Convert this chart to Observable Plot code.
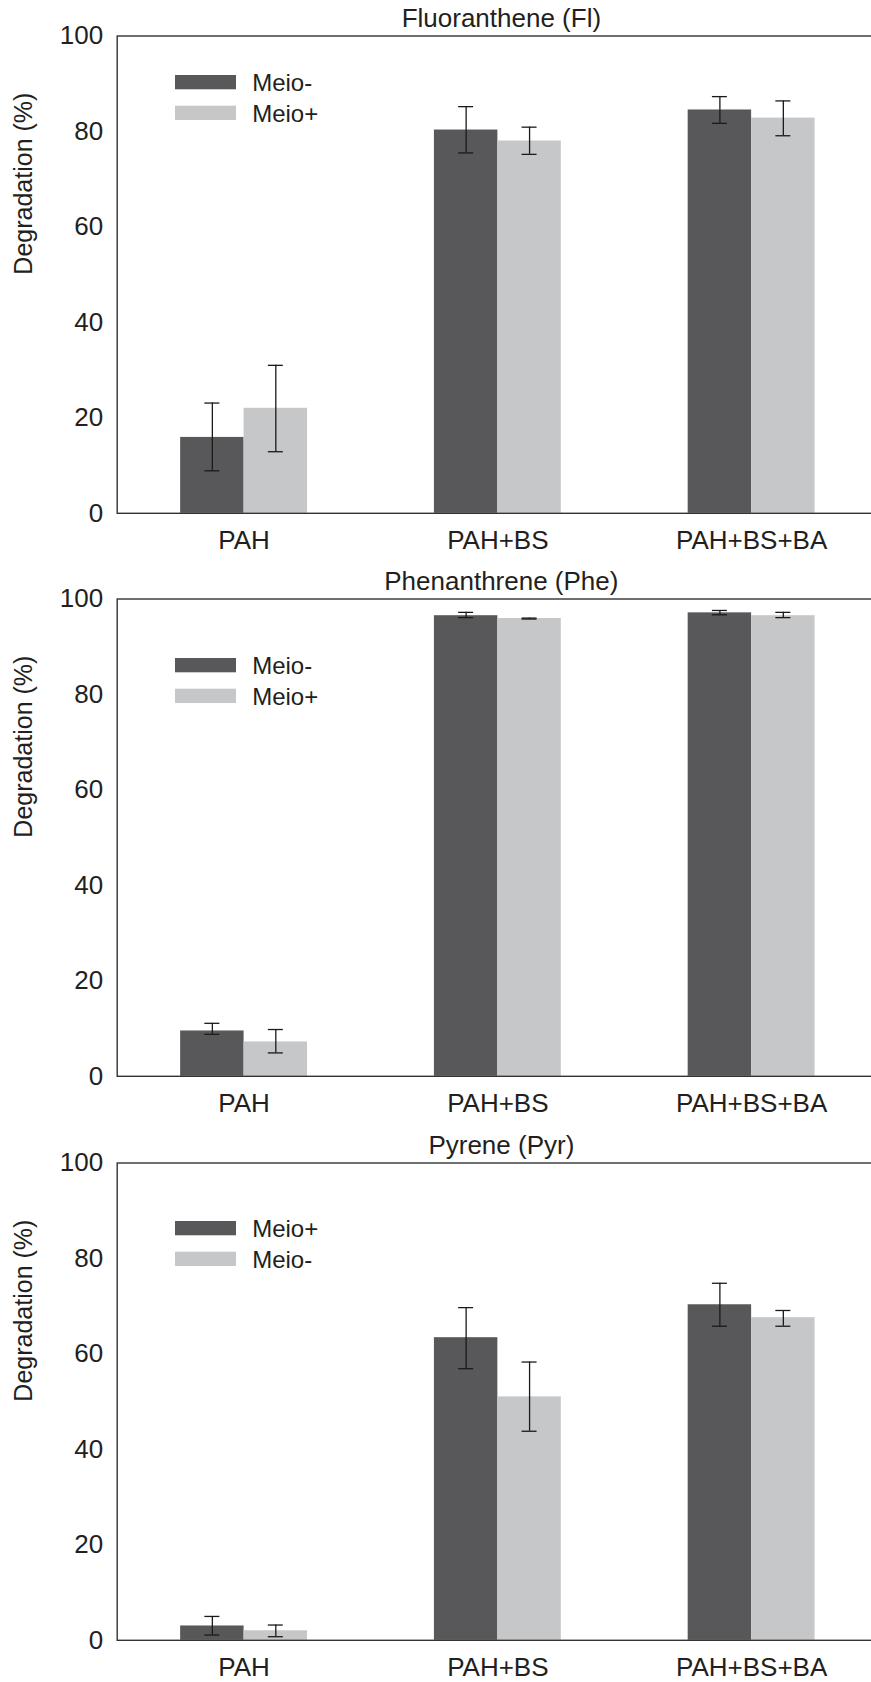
<!DOCTYPE html>
<html><head><meta charset="utf-8">
<script src="https://cdn.jsdelivr.net/npm/d3@7"></script>
<script src="https://cdn.jsdelivr.net/npm/@observablehq/plot@0.6"></script>
<style>
html,body{margin:0;padding:0;background:#fff;overflow:hidden;width:871px;height:1682px}
.panel{position:relative;width:871px;overflow:hidden}
.panel svg{display:block}
</style></head><body><div id="chart"></div>
<script>
// ---- data ----
const categories = ["PAH", "PAH+BS", "PAH+BS+BA"];
const yTicks = [0, 20, 40, 60, 80, 100];

// Fluoranthene (Fl)
const flTitle = "Fluoranthene (Fl)";
const flSeries = ["Meio-", "Meio+"];
const flMeioMinus   = [15.9, 80.3, 84.5];
const flMeioMinusLo = [8.9, 75.5, 81.7];
const flMeioMinusHi = [23.1, 85.2, 87.3];
const flMeioPlus    = [22.0, 78.0, 82.8];
const flMeioPlusLo  = [12.9, 75.2, 79.1];
const flMeioPlusHi  = [31.0, 80.9, 86.4];

// Phenanthrene (Phe)
const pheTitle = "Phenanthrene (Phe)";
const pheSeries = ["Meio-", "Meio+"];
const pheMeioMinus   = [9.5, 96.5, 97.1];
const pheMeioMinusLo = [8.8, 96.1, 96.7];
const pheMeioMinusHi = [11.1, 97.2, 97.6];
const pheMeioPlus    = [7.2, 95.9, 96.5];
const pheMeioPlusLo  = [4.9, 95.8, 96.1];
const pheMeioPlusHi  = [9.8, 96.0, 97.2];

// Pyrene (Pyr)
const pyrTitle = "Pyrene (Pyr)";
const pyrSeries = ["Meio+", "Meio-"];
const pyrMeioPlus    = [3.0, 63.4, 70.3];
const pyrMeioPlusLo  = [1.1, 56.9, 65.8];
const pyrMeioPlusHi  = [5.0, 69.7, 74.8];
const pyrMeioMinus   = [2.0, 51.0, 67.6];
const pyrMeioMinusLo = [0.75, 43.8, 65.8];
const pyrMeioMinusHi = [3.2, 58.3, 69.1];

// ---- styling ----
const DARK = "#58585a", LIGHT = "#c6c7c9", INK = "#231f20";
const FONT = '"Liberation Sans", Arial, sans-serif';
const W = 871, ML = 116.7, MR = -7, MT = 35.5, INNER = 477.3;

function rowsOf(vals, lo, hi) {
  return categories.map((c, i) => ({cat: c, v: vals[i], lo: lo[i], hi: hi[i]}));
}

const panels = [
  {title: flTitle, names: flSeries, h: 563, legTop: 75,
   a: rowsOf(flMeioMinus, flMeioMinusLo, flMeioMinusHi), b: rowsOf(flMeioPlus, flMeioPlusLo, flMeioPlusHi)},
  {title: pheTitle, names: pheSeries, h: 564, legTop: 95,
   a: rowsOf(pheMeioMinus, pheMeioMinusLo, pheMeioMinusHi), b: rowsOf(pheMeioPlus, pheMeioPlusLo, pheMeioPlusHi)},
  {title: pyrTitle, names: pyrSeries, h: 555, legTop: 94,
   a: rowsOf(pyrMeioPlus, pyrMeioPlusLo, pyrMeioPlusHi), b: rowsOf(pyrMeioMinus, pyrMeioMinusLo, pyrMeioMinusHi)}
];

const step = (W - ML - MR) / 3;
const bw = step * 0.5;
const half = bw / 2, q = bw / 4, cap = 7.5;
const LEG_GAP = 30.7, LEG_FS = 24;

const root = document.getElementById("chart");
for (const p of panels) {
  const div = document.createElement("div");
  div.className = "panel";
  div.style.height = p.h + "px";
  const legendText = p.names.map((name, i) =>
    Plot.text([name], {frameAnchor: "top-left", textAnchor: "start", lineAnchor: "middle",
      dx: 251.7 - ML, dy: p.legTop + i * LEG_GAP + 8 - MT, fontSize: LEG_FS, fill: INK}));
  const plot = Plot.plot({
    width: W, height: p.h,
    marginLeft: ML, marginRight: MR, marginTop: MT, marginBottom: p.h - MT - INNER,
    style: {fontFamily: FONT, fontSize: "26px", color: INK, background: "#fff", overflow: "hidden"},
    x: {domain: categories, paddingInner: 0.5, paddingOuter: 0.25, round: false, label: null, tickSize: 0, tickPadding: 17},
    y: {domain: [0, 100], ticks: yTicks, tickSize: 0, tickPadding: 14, label: null},
    marks: [
      Plot.barY(p.a, {x: "cat", y: "v", fill: DARK, insetRight: half}),
      Plot.barY(p.b, {x: "cat", y: "v", fill: LIGHT, insetLeft: half}),
      Plot.frame({stroke: "#333", strokeWidth: 1.4}),
      Plot.ruleX(p.a, {x: "cat", y1: "lo", y2: "hi", dx: -q, stroke: "#1a1a1a", strokeWidth: 1.3}),
      Plot.ruleX(p.b, {x: "cat", y1: "lo", y2: "hi", dx: q, stroke: "#1a1a1a", strokeWidth: 1.3}),
      Plot.tickY(p.a, {x: "cat", y: "lo", insetLeft: q - cap, insetRight: bw - q - cap, stroke: "#1a1a1a", strokeWidth: 1.3}),
      Plot.tickY(p.a, {x: "cat", y: "hi", insetLeft: q - cap, insetRight: bw - q - cap, stroke: "#1a1a1a", strokeWidth: 1.3}),
      Plot.tickY(p.b, {x: "cat", y: "lo", insetLeft: 3 * q - cap, insetRight: q - cap, stroke: "#1a1a1a", strokeWidth: 1.3}),
      Plot.tickY(p.b, {x: "cat", y: "hi", insetLeft: 3 * q - cap, insetRight: q - cap, stroke: "#1a1a1a", strokeWidth: 1.3}),
      Plot.text([p.title], {frameAnchor: "top", lineAnchor: "middle", dy: -17.3, dx: 3.5, fontSize: 26, fill: INK}),
      Plot.text(["Degradation (%)"], {frameAnchor: "left", rotate: -90, lineAnchor: "middle", dx: -93.2, fontSize: 25, fill: INK}),
      ...legendText
    ]
  });
  // legend swatches
  const leg = d3.select(plot).append("g").attr("class", "legend-swatches");
  p.names.forEach((name, i) => {
    leg.append("rect").attr("x", 175).attr("y", p.legTop + i * LEG_GAP)
      .attr("width", 61).attr("height", 14.3).attr("fill", i === 0 ? DARK : LIGHT);
  });
  div.appendChild(plot);
  root.appendChild(div);
}
</script></body></html>
